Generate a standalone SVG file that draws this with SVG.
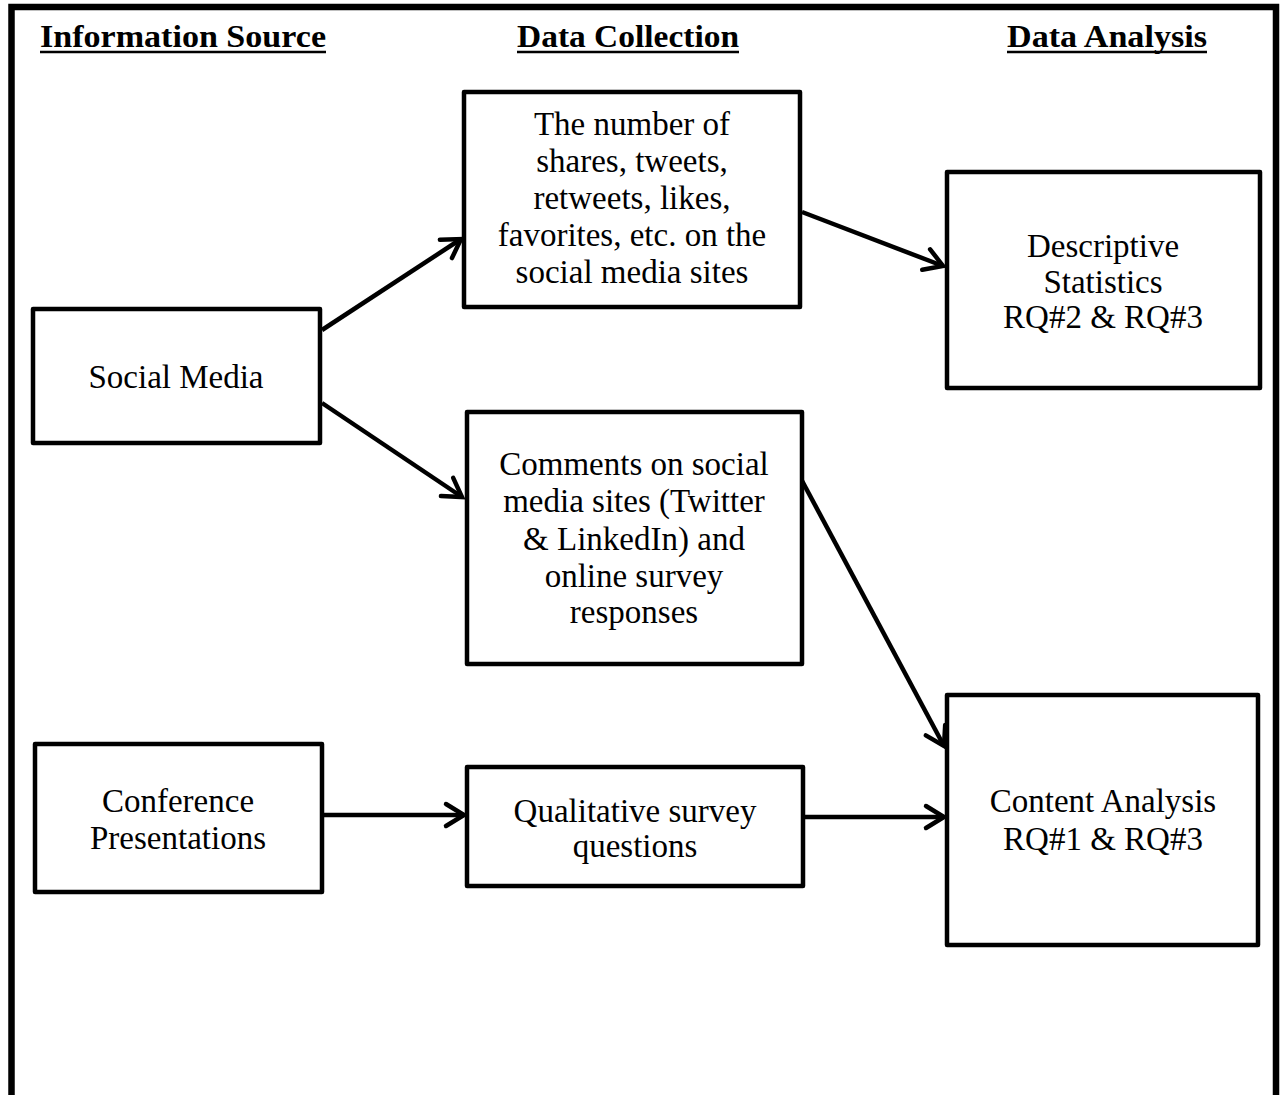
<svg xmlns="http://www.w3.org/2000/svg" width="1285" height="1095" viewBox="0 0 1285 1095">
<style>
.box{fill:#fff;stroke:#000;stroke-width:4.5;stroke-linejoin:round}
.t{font-family:"Liberation Serif","Times New Roman",serif;font-size:33px;fill:#000;text-anchor:middle}
.h{font-family:"Liberation Serif","Times New Roman",serif;font-size:32px;font-weight:bold;fill:#000}
.ul{stroke:#000;stroke-width:2.5}
.c{stroke:#000;stroke-width:4.5;fill:none}
</style>
<defs>
<marker id="ah" markerUnits="userSpaceOnUse" markerWidth="30" markerHeight="30" viewBox="-24 -15 30 30" refX="0" refY="0" orient="auto" overflow="visible">
<path d="M-18,-11 L0,0 L-18,11" fill="none" stroke="#000" stroke-width="4.5" stroke-linecap="round" stroke-linejoin="miter"/>
</marker>
</defs>
<rect width="1285" height="1095" fill="#fff"/>
<path d="M11.5,1095 V7 H1276 V1095" fill="none" stroke="#000" stroke-width="6.5"/>
<g id="headers">
<text class="h" x="40" y="47" textLength="286" lengthAdjust="spacingAndGlyphs">Information Source</text>
<line class="ul" x1="40" y1="52" x2="326" y2="52"/>
<text class="h" x="517" y="47" textLength="222" lengthAdjust="spacingAndGlyphs">Data Collection</text>
<line class="ul" x1="517" y1="52" x2="739" y2="52"/>
<text class="h" x="1007" y="47" textLength="200" lengthAdjust="spacingAndGlyphs">Data Analysis</text>
<line class="ul" x1="1007" y1="52" x2="1207" y2="52"/>
</g>
<g id="connectors">
<line class="c" x1="322" y1="330" x2="461" y2="239" marker-end="url(#ah)"/>
<line class="c" x1="322" y1="403" x2="462" y2="497" marker-end="url(#ah)"/>
<line class="c" x1="802" y1="212" x2="943" y2="266" marker-end="url(#ah)"/>
<line class="c" x1="800" y1="477" x2="944" y2="746" marker-end="url(#ah)"/>
<line class="c" x1="324" y1="815" x2="464" y2="815" marker-end="url(#ah)"/>
<line class="c" x1="805" y1="817" x2="944" y2="817" marker-end="url(#ah)"/>
</g>
<g id="social-media">
<rect class="box" x="33" y="309" width="287" height="134"/>
<text class="t" x="176" y="388">Social Media</text>
</g>
<g id="conference">
<rect class="box" x="35" y="744" width="287" height="148"/>
<text class="t" x="178" y="812">Conference</text>
<text class="t" x="178" y="849">Presentations</text>
</g>
<g id="number-of-shares">
<rect class="box" x="464" y="92" width="336" height="215"/>
<text class="t" x="632" y="135">The number of</text>
<text class="t" x="632" y="172">shares, tweets,</text>
<text class="t" x="632" y="209">retweets, likes,</text>
<text class="t" x="632" y="246">favorites, etc. on the</text>
<text class="t" x="632" y="283">social media sites</text>
</g>
<g id="comments">
<rect class="box" x="467" y="412" width="335" height="252"/>
<text class="t" x="634" y="475">Comments on social</text>
<text class="t" x="634" y="512">media sites (Twitter</text>
<text class="t" x="634" y="550">&amp; LinkedIn) and</text>
<text class="t" x="634" y="587">online survey</text>
<text class="t" x="634" y="623">responses</text>
</g>
<g id="qualitative">
<rect class="box" x="467" y="767" width="336" height="119"/>
<text class="t" x="635" y="822">Qualitative survey</text>
<text class="t" x="635" y="857">questions</text>
</g>
<g id="descriptive">
<rect class="box" x="947" y="172" width="313" height="216"/>
<text class="t" x="1103" y="257">Descriptive</text>
<text class="t" x="1103" y="293">Statistics</text>
<text class="t" x="1103" y="328">RQ#2 &amp; RQ#3</text>
</g>
<g id="content-analysis">
<rect class="box" x="947" y="695" width="311" height="250"/>
<text class="t" x="1103" y="812">Content Analysis</text>
<text class="t" x="1103" y="850">RQ#1 &amp; RQ#3</text>
</g>
</svg>
